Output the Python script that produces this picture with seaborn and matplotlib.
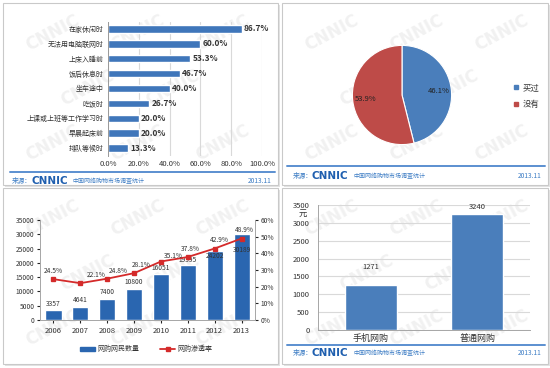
import matplotlib.pyplot as plt
import seaborn as sns
from matplotlib.patches import Rectangle, Patch
from matplotlib.lines import Line2D

# data
times = ['在家休闲时', '无法用电脑联网时', '上床入睡前', '饭后休息时', '坐车途中',
         '吃饭时', '上课或上班等工作学习时', '早晨起床前', '排队等候时']
time_share = [86.7, 60.0, 53.3, 46.7, 40.0, 26.7, 20.0, 20.0, 13.3]

buy_labels = ['买过', '没有']
buy_share = [46.1, 53.9]

years = ['2006', '2007', '2008', '2009', '2010', '2011', '2012', '2013']
users = [3357, 4641, 7400, 10800, 16051, 19395, 24202, 30189]
rate = [24.5, 22.1, 24.8, 28.1, 35.1, 37.8, 42.9, 48.9]
user_label = '网购网民数量'
rate_label = '网购渗透率'

spend_cats = ['手机网购', '普通网购']
spend = [1271, 3240]

sns.set_style('white')
plt.rcParams['font.family'] = ['Noto Sans CJK SC', 'DejaVu Sans']
plt.rcParams['axes.unicode_minus'] = False

W, H = 550, 368
BLUE = '#3F76BA'
DARK_BLUE = '#2A66B0'
RED = '#D42A2A'
TXT = '#333333'
GRID = '#D9D9D9'


def box(x0, y0, x1, y1):
    return [x0 / W, 1 - y1 / H, (x1 - x0) / W, (y1 - y0) / H]


def fx(x):
    return x / W


def fy(y):
    return 1 - y / H


fig = plt.figure(figsize=(5.5, 3.68), dpi=100, facecolor='white')

panels = [(3, 3, 278, 185), (282, 3, 548, 185), (3, 188, 278, 364), (282, 188, 548, 364)]

# panel frames
for (x0, y0, x1, y1) in panels:
    fig.add_artist(Rectangle((fx(x0) + 0.003, fy(y1) - 0.005), (x1 - x0) / W, (y1 - y0) / H,
                             transform=fig.transFigure, facecolor='#E3E3E3', edgecolor='none', zorder=-3))
    fig.add_artist(Rectangle((fx(x0), fy(y1)), (x1 - x0) / W, (y1 - y0) / H,
                             transform=fig.transFigure, facecolor='white', edgecolor='#C9C9C9',
                             linewidth=0.8, zorder=-2))

# faint watermark, kept inside each panel
for (x0, y0, x1, y1) in panels:
    for row in range(3):
        for col in range(3):
            wx = x0 + 50 + col * 85 + (row % 2) * 35
            wy = y0 + 30 + row * 55
            if wx < x1 - 40:
                fig.text(fx(wx), fy(wy), 'CNNIC', color='#F1F1F1', fontsize=12, fontweight='bold',
                         rotation=28, ha='center', va='center', zorder=-1, family='DejaVu Sans')


def footer(x0, x1, yline, ytext, xtext):
    fig.add_artist(Line2D([fx(x0), fx(x1)], [fy(yline)] * 2, color='#5B8FD0', linewidth=1.4,
                          transform=fig.transFigure))
    fig.text(fx(xtext), fy(ytext), '来源：', color='#3C7CC4', fontsize=4.8, va='center')
    fig.text(fx(xtext + 19), fy(ytext), 'CNNIC', color='#1F5FAF', fontsize=7.5, fontweight='bold',
             va='center', family='DejaVu Sans')
    fig.text(fx(xtext + 60), fy(ytext), '中国网络购物市场调查统计', color='#3C7CC4', fontsize=4.3, va='center')
    fig.text(fx(x1 - 3), fy(ytext), '2013.11', color='#3C7CC4', fontsize=4.8, va='center', ha='right')


# ---- panel 1: time of use
ax1 = fig.add_axes(box(108, 21.5, 262, 155.5))
ax1.set_facecolor('none')
sns.barplot(x=time_share, y=times, orient='h', color=BLUE, saturation=1, width=0.5, ax=ax1, zorder=2)
ax1.set_xlim(0, 100)
ax1.set_xticks(range(0, 101, 20))
ax1.set_xticklabels([f'{v:.1f}%' for v in range(0, 101, 20)], fontsize=5.5, color=TXT)
ax1.tick_params(axis='y', labelsize=5, labelcolor=TXT, length=0, pad=3)
ax1.tick_params(axis='x', length=0, pad=3)
ax1.grid(axis='x', color=GRID, linewidth=0.8)
for s in ['top', 'right', 'bottom']:
    ax1.spines[s].set_visible(False)
ax1.spines['left'].set_color('#999999')
ax1.spines['left'].set_linewidth(0.7)
ax1.set_xlabel('')
ax1.set_ylabel('')
for i, v in enumerate(time_share):
    ax1.text(v + 1.5, i, f'{v:.1f}%', va='center', fontsize=6, color=TXT, fontweight='bold')
footer(10, 275, 172, 181, 12)

# ---- panel 2: pie
ax2 = fig.add_axes(box(340, 33, 464, 157))
ax2.set_facecolor('none')
wedges, _, autotexts = ax2.pie(buy_share, colors=['#4A7EBB', '#BE4B48'], startangle=90, counterclock=False,
                               autopct='%1.1f%%', pctdistance=0.74,
                               wedgeprops=dict(edgecolor='white', linewidth=0.8),
                               textprops=dict(fontsize=5.5, color='#222222'))
ax2.set_aspect('equal')
fig.legend(handles=[Line2D([], [], marker='s', ls='', color=c, markersize=3.5) for c in ['#4A7EBB', '#BE4B48']],
           labels=buy_labels, loc='center left', bbox_to_anchor=(fx(505), fy(96)), frameon=False,
           fontsize=6, handlelength=0.8, handletextpad=0.4, labelspacing=0.9, labelcolor=TXT)
footer(287, 545, 166, 176, 293)

# ---- panel 3: users and penetration
ax3 = fig.add_axes(box(40, 220, 255, 320))
ax3.set_facecolor('none')
sns.barplot(x=years, y=users, color=DARK_BLUE, saturation=1, width=0.6, ax=ax3)
ax3.set_ylim(0, 35000)
ax3.set_yticks(range(0, 35001, 5000))
ax3.tick_params(axis='y', labelsize=4.8, labelcolor=TXT, length=2, pad=2, left=True)
ax3.tick_params(axis='x', labelsize=5.5, labelcolor=TXT, length=2, pad=3, bottom=True)
ax3.set_xlabel('')
ax3.set_ylabel('')
label_dy = [2, 2, 2, 2, 1.5, 0.5, -6.5, -14.5]
for i, v in enumerate(users):
    ax3.annotate(str(v), (i, v), xytext=(0, label_dy[i]), textcoords='offset points',
                 ha='center', va='bottom', fontsize=4.8, color=TXT)

ax3b = ax3.twinx()
ax3b.set_facecolor('none')
sns.pointplot(x=years, y=rate, color=RED, markers='s', markersize=3.5, linewidth=1.3,
              errorbar=None, ax=ax3b)
ax3b.set_ylim(0, 60)
ax3b.set_yticks(range(0, 61, 10))
ax3b.set_yticklabels([f'{v}%' for v in range(0, 61, 10)])
ax3b.tick_params(axis='y', labelsize=4.8, labelcolor=TXT, length=2, pad=2, right=True)
ax3b.set_xlim(-0.5, len(years) - 0.5)
ax3.set_xlim(-0.5, len(years) - 0.5)
ax3b.set_xlabel('')
ax3b.set_ylabel('')
rate_off = [(0, 8), (16, 8), (11, 8), (7, 8), (12, 6), (3, 8), (5, 8.5), (3, 8.5)]
for i, r in enumerate(rate):
    dx, dy = rate_off[i]
    ax3b.annotate(f'{r:.1f}%', (i, r), xytext=(dx * 0.72, dy * 0.72), textcoords='offset points',
                  ha='center', va='center', fontsize=4.8, color=TXT)
for a in (ax3, ax3b):
    a.spines['top'].set_visible(False)
    for s in ['left', 'right', 'bottom']:
        a.spines[s].set_color('#A6A6A6')
        a.spines[s].set_linewidth(0.6)
fig.legend(handles=[Patch(color=DARK_BLUE), Line2D([], [], color=RED, marker='s', markersize=3, linewidth=1.3)],
           labels=[user_label, rate_label], loc='center', bbox_to_anchor=(fx(146), fy(349)), ncol=2,
           frameon=False, fontsize=5, handlelength=2.2, handleheight=0.5, columnspacing=3,
           handletextpad=0.3, labelcolor=TXT)

# ---- panel 4: spend per person
ax4 = fig.add_axes(box(318, 205, 530, 330))
ax4.set_facecolor('none')
sns.barplot(x=spend_cats, y=spend, color='#4A7EBB', saturation=1, width=0.49, ax=ax4, zorder=2)
ax4.set_ylim(0, 3500)
ax4.set_yticks(range(0, 3501, 500))
ax4.grid(axis='y', color=GRID, linewidth=0.8)
ax4.tick_params(axis='y', labelsize=5.5, labelcolor=TXT, length=0, pad=6)
ax4.tick_params(axis='x', labelsize=6.5, labelcolor=TXT, length=0, pad=3)
ax4.set_xlabel('')
ax4.set_ylabel('')
for s in ['top', 'right']:
    ax4.spines[s].set_visible(False)
for s in ['left', 'bottom']:
    ax4.spines[s].set_color('#A6A6A6')
    ax4.spines[s].set_linewidth(0.7)
spend_dy = [10, 2.4]
for i, v in enumerate(spend):
    ax4.annotate(str(v), (i, v), xytext=(0, spend_dy[i]), textcoords='offset points',
                 ha='center', va='bottom', fontsize=5.5, color=TXT)
fig.text(fx(303), fy(213), '元', fontsize=6, color=TXT, va='center', ha='center')
footer(287, 545, 345, 353, 293)

fig.savefig('out.png', dpi=100, facecolor='white')
